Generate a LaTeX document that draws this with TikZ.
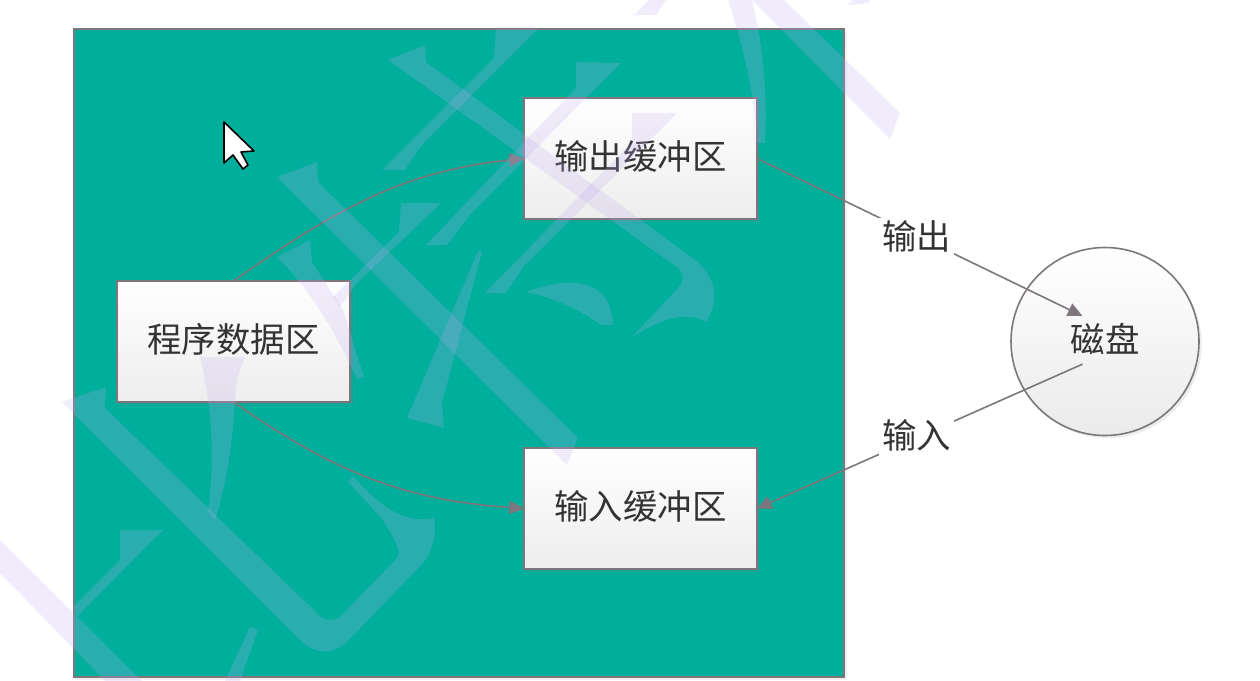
\documentclass[tikz,border=0pt]{standalone}
\usepackage{fontspec}
\newfontfamily\cjk{Noto Sans CJK SC}
\usetikzlibrary{arrows.meta, positioning, shadows}
\definecolor{panelgreen}{RGB}{0,174,156}
\definecolor{linegray}{RGB}{125,118,125}
\definecolor{wmarkcol}{RGB}{190,172,238}
\tikzset{
    boxnode/.style={draw=linegray, line width=1.2pt, outer sep=0pt, top color=white, bottom color=black!7, minimum width=174.75pt, minimum height=90.75pt, drop shadow={shadow xshift=2pt, shadow yshift=-2pt, opacity=.2}},
    disknode/.style={circle, draw=linegray, line width=1.2pt, outer sep=0pt, inner sep=0pt, top color=white, bottom color=black!8, minimum size=141pt, drop shadow={shadow xshift=2pt, shadow yshift=-2pt, opacity=.15}},
    linelabel/.style={fill=white, inner sep=2pt},
    wmark/.style={fill=wmarkcol, opacity=.22},
    flow/.style={draw=linegray, line width=1.2pt, -{Triangle[length=11pt, width=10pt]}}
}
\begin{document}
\begin{tikzpicture}[x=0.75pt, y=-0.75pt, every node/.style={font=\cjk\fontsize{25.8}{30}\selectfont, text=black!80, text depth=5.5pt, align=center}]
    \useasboundingbox (0,0) rectangle (1260,681);
    \fill[white] (0,0) rectangle (1260,681);

    % Nodes
    \node[draw=linegray, line width=1.2pt, fill=panelgreen, outer sep=0pt, minimum width=577.5pt, minimum height=486pt, drop shadow={shadow xshift=2pt, shadow yshift=-2pt, opacity=.1}] (panel) at (459,353) {};
    \node[boxnode] (prog) at (233.5,341.5) {程序数据区};
    \node[boxnode, right=130.5pt of prog, yshift=137.25pt] (outbuf) {输出缓冲区};
    \node[boxnode, right=130.5pt of prog, yshift=-125.25pt] (inbuf) {输入缓冲区};
    \node[disknode, right=495.75pt of prog] (disk) {磁盘};
    \coordinate (diskin) at ([xshift=-16.9pt, yshift=19.1pt]disk.center);
    \coordinate (diskout) at ([xshift=-16.9pt, yshift=-17pt]disk.center);

    % Arrows
    \draw[flow] (prog.north) to[out=35, in=186] (outbuf.west);
    \draw[flow] (prog.south) to[out=-35, in=176] (inbuf.west);
    \draw[flow] (outbuf.east) -- node[linelabel, pos=.49, yshift=-2.5pt] (outlabel) {输出} (diskin);
    \draw[flow] (diskout) -- node[linelabel, pos=.51] (inlabel) {输入} (inbuf.east);

    % Cursor
    \draw[black, fill=white, line width=1.2pt, line join=round] (224,122) -- (224,163) -- (233,155) -- (243,169) -- (248,165) -- (241,152) -- (254,151) -- cycle;

    % Watermark
    \fill[wmark] (277,177) -- (317,162) -- (318,182) -- (578,438) -- (567,465) -- cycle;
    \fill[wmark] (388,60) -- (425,45) -- (426,62) -- (698,262) .. controls (716,280) and (720,300) .. (706,322) .. controls (685,310) and (660,320) .. (632,337) -- (678,288) .. controls (685,280) and (684,275) .. (678,268) -- cycle;
    \fill[wmark] (526,292) .. controls (545,285) and (565,281) .. (576,283) .. controls (600,285) and (612,300) .. (613,325) -- (601,325) .. controls (580,310) and (555,298) .. (526,292) -- cycle;
    \fill[wmark] (621,63) -- (576,62) -- (576,88) -- (426,245) -- (447,245) -- (470,215) -- cycle;
    \fill[wmark] (538,29) -- (496,29) -- (494,58) -- (382,170) -- (405,170) -- (420,147) -- cycle;
    \fill[wmark] (677,113) -- (632,113) -- (632,142) -- (485,293) -- (506,293) -- (525,265) -- cycle;
    \fill[wmark] (441,203) -- (401,203) -- (399,232) -- (333,297) -- (340,307) -- (355,285) -- cycle;
    \fill[wmark] (310,240) -- (312,262) -- (343,310) -- (364,377) -- (357,379) .. controls (330,320) and (305,285) .. (277,257) -- cycle;
    \fill[wmark] (482,252) -- (478,251) -- (407,418) -- (444,428) -- (442,403) -- cycle;
    \fill[wmark] (728,0) .. controls (745,50) and (755,100) .. (757,143) -- (765,143) .. controls (768,90) and (762,40) .. (752,0) -- cycle;
    \fill[wmark] (752,0) -- (784,0) -- (900,113) -- (890,139) -- cycle;
    \fill[wmark] (634,15) -- (656,15) -- (666,0) -- (649,0) -- cycle;
    \fill[wmark] (847,5) -- (868,3) -- (870,0) -- (853,0) -- cycle;
    \fill[wmark] (62,402) -- (106,387) -- (105,408) -- (317,613) .. controls (322,620) and (332,622) .. (340,617) -- (398,557) .. controls (400,550) and (398,545) .. (383,520) -- (348,482) -- (353,476) .. controls (375,500) and (400,525) .. (434,518) .. controls (437,535) and (433,550) .. (423,563) -- (347,642) .. controls (330,656) and (315,654) .. (300,640) -- cycle;
    \fill[wmark] (200,357) -- (245,357) .. controls (238,372) and (235,385) .. (235,403) .. controls (232,450) and (225,490) .. (215,520) -- (208,512) .. controls (213,470) and (215,420) .. (200,357) -- cycle;
    \fill[wmark] (120,530) -- (163,530) -- (77,617) -- (73,607) -- (120,560) -- cycle;
    \fill[wmark] (0,540) -- (142,681) -- (105,681) -- (0,573) -- cycle;
    \fill[wmark] (250,627) -- (258,630) -- (240,681) -- (225,681) -- cycle;
\end{tikzpicture}
\end{document}
